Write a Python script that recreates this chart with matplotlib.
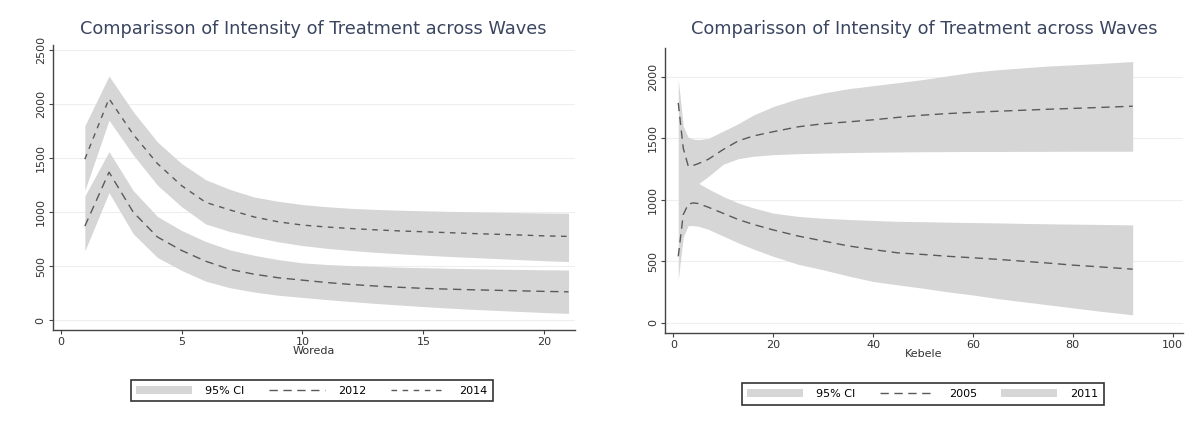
import matplotlib.pyplot as plt
from matplotlib.patches import Patch
from matplotlib.lines import Line2D


# left panel: woreda level
woreda = [1, 2, 3, 4, 5, 6, 7, 8, 9, 10, 11, 12, 13, 14, 15, 16, 17, 18, 19, 20, 21]

w2014 = [1490, 2050, 1720, 1450, 1245, 1090, 1020, 955, 910, 880, 862, 848, 836, 826,
         818, 810, 802, 795, 788, 780, 775]
w2014_hi = [1800, 2260, 1930, 1650, 1450, 1300, 1210, 1140, 1100, 1070, 1050, 1035, 1025,
            1018, 1012, 1007, 1003, 999, 995, 992, 990]
w2014_lo = [1200, 1850, 1530, 1250, 1050, 890, 820, 770, 725, 690, 665, 645, 628, 614,
            602, 590, 580, 570, 560, 550, 542]

w2012 = [870, 1370, 1000, 770, 645, 545, 470, 425, 392, 370, 348, 330, 316, 304, 294,
         287, 281, 276, 271, 266, 262]
w2012_hi = [1150, 1560, 1200, 960, 830, 728, 650, 600, 560, 530, 515, 505, 497, 490, 485,
            480, 476, 472, 469, 466, 464]
w2012_lo = [640, 1180, 800, 580, 460, 360, 300, 260, 230, 210, 190, 172, 155, 140, 125,
            112, 100, 90, 80, 70, 62]

# right panel: kebele level
kebele = [1, 2, 3, 4, 5, 7, 10, 13, 16, 20, 25, 30, 35, 40, 45, 50, 55, 60, 65, 70, 75,
          80, 85, 92]

k2011 = [1790, 1420, 1275, 1280, 1295, 1330, 1410, 1480, 1520, 1555, 1595, 1620, 1635,
         1652, 1672, 1690, 1703, 1713, 1722, 1730, 1738, 1745, 1752, 1763]
k2011_hi = [1980, 1600, 1510, 1495, 1490, 1500, 1560, 1620, 1690, 1760, 1825, 1870, 1905,
            1930, 1955, 1980, 2010, 2040, 2060, 2075, 2090, 2100, 2110, 2127]
k2011_lo = [960, 1020, 1060, 1090, 1130, 1190, 1290, 1335, 1355, 1368, 1376, 1381, 1385,
            1388, 1390, 1392, 1393, 1394, 1394, 1395, 1395, 1396, 1396, 1396]

k2005 = [540, 880, 965, 975, 970, 940, 890, 840, 800, 755, 705, 665, 625, 595, 568, 555,
         540, 528, 515, 500, 485, 468, 455, 435]
k2005_hi = [980, 1060, 1100, 1125, 1136, 1090, 1027, 975, 935, 892, 865, 850, 840, 832,
            825, 822, 818, 815, 812, 808, 805, 802, 800, 796]
k2005_lo = [350, 700, 790, 790, 785, 760, 705, 650, 600, 540, 475, 430, 380, 335, 307,
            280, 250, 225, 195, 170, 145, 120, 95, 63]

title = 'Comparisson of Intensity of Treatment across Waves'
ci_col = '#d6d6d6'
line_col = '#5a5a5a'
axis_col = '#444444'

fig = plt.figure(figsize=(11.97, 4.26), dpi=100)
ax1 = fig.add_axes([0.044, 0.225, 0.436, 0.669])
ax2 = fig.add_axes([0.5555, 0.218, 0.4325, 0.669])


def style(ax, xt, yt):
    ax.set_xticks(xt)
    ax.set_yticks(yt)
    ax.grid(axis='y', color='#eeeeee', linewidth=0.8)
    ax.set_axisbelow(True)
    for s in ['top', 'right']:
        ax.spines[s].set_visible(False)
    for s in ['left', 'bottom']:
        ax.spines[s].set_color(axis_col)
        ax.spines[s].set_linewidth(1.0)
    ax.tick_params(colors=axis_col, labelcolor='#333333', labelsize=8, length=3,
                   pad=2)
    for lab in ax.get_yticklabels():
        lab.set_rotation(90)
        lab.set_verticalalignment('center')


# left
ax1.fill_between(woreda, w2014_lo, w2014_hi, color=ci_col, linewidth=0)
ax1.fill_between(woreda, w2012_lo, w2012_hi, color=ci_col, linewidth=0)
ax1.plot(woreda, w2012, color=line_col, linewidth=1.0, dashes=(6, 4))
ax1.plot(woreda, w2014, color=line_col, linewidth=1.0, dashes=(4, 4))
ax1.set_xlim(-0.33, 21.25)
ax1.set_ylim(-93, 2546)
style(ax1, [0, 5, 10, 15, 20], [0, 500, 1000, 1500, 2000, 2500])
ax1.set_xlabel('Woreda', fontsize=8, color='#333333', labelpad=-1)
ax1.set_title(title, fontsize=12.8, color='#3a4560', pad=8)

leg1 = ax1.legend(
    [Patch(facecolor=ci_col), Line2D([], [], color=line_col, lw=1, dashes=(6, 4)),
     Line2D([], [], color=line_col, lw=1, dashes=(4, 4))],
    ['95% CI', '2012', '2014'], ncol=3, loc='center',
    bbox_to_anchor=(0.2607, 0.083), bbox_transform=fig.transFigure,
    fontsize=8, handlelength=5, handletextpad=1.2, columnspacing=2.2,
    fancybox=False, edgecolor='#333333', framealpha=1, borderpad=0.5)
leg1.get_frame().set_linewidth(1.2)

# right
ax2.fill_between(kebele, k2011_lo, k2011_hi, color=ci_col, linewidth=0)
ax2.fill_between(kebele, k2005_lo, k2005_hi, color=ci_col, linewidth=0)
ax2.plot(kebele, k2005, color=line_col, linewidth=1.0, dashes=(6, 4))
ax2.plot(kebele, k2011, color=line_col, linewidth=1.0, dashes=(6, 4))
ax2.set_xlim(-1.67, 102)
ax2.set_ylim(-86, 2236)
style(ax2, [0, 20, 40, 60, 80, 100], [0, 500, 1000, 1500, 2000])
ax2.set_xlabel('Kebele', fontsize=8, color='#333333', labelpad=-1)
ax2.set_title(title, fontsize=12.8, color='#3a4560', pad=10)

leg2 = ax2.legend(
    [Patch(facecolor=ci_col), Line2D([], [], color=line_col, lw=1, dashes=(6, 4)),
     Patch(facecolor=ci_col)],
    ['95% CI', '2005', '2011'], ncol=3, loc='center',
    bbox_to_anchor=(0.771, 0.075), bbox_transform=fig.transFigure,
    fontsize=8, handlelength=5, handletextpad=1.2, columnspacing=2.2,
    fancybox=False, edgecolor='#333333', framealpha=1, borderpad=0.5)
leg2.get_frame().set_linewidth(1.2)

fig.savefig('out.png', dpi=100)
